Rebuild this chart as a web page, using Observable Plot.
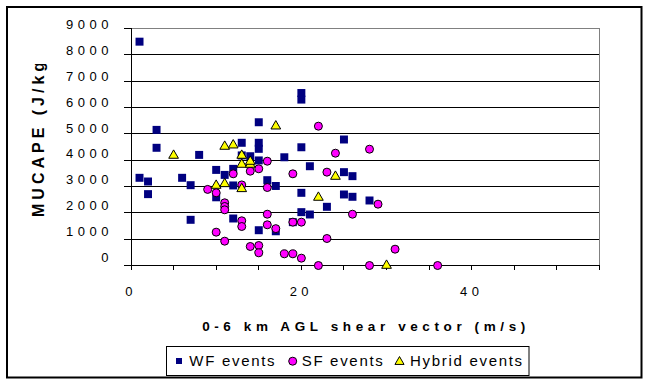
<!DOCTYPE html>
<html><head><meta charset="utf-8">
<script src="https://cdn.jsdelivr.net/npm/d3@7"></script>
<script src="https://cdn.jsdelivr.net/npm/@observablehq/plot@0.6"></script>
<style>
html,body{margin:0;padding:0;background:#fff;}
</style>
</head><body><div id="chart"></div>
<script>
// WF events (squares)
const wfShear = [1,3,3,1,2,2,6,7,7,8,10,10,11,12,12,12,13,13,14,15,15,15,15,15,16,17,17,18,19,20,20,20,20,20,21,21,23,25,25,25,26,26,28];
const wfCape  = [8500,5150,4470,3330,3190,2710,3330,3050,1735,4200,3630,2590,3440,3670,3040,1785,4660,4180,4150,5440,4660,4430,3990,1340,3240,3020,1300,4110,1646,6550,6300,4490,2760,2026,3770,1937,2229,4785,3545,2697,3393,2609,2469];
// SF events (circles)
const sfShear = [9,10,10,11,11,11,11,12,13,13,13,14,14,15,15,15,16,16,16,16,17,18,19,19,19,20,20,22,22,23,23,24,26,28,28,29,31,36];
const sfCape  = [2890,2760,1266,2381,2241,2115,924,3482,3060,1697,1481,3582,722,3672,760,481,3961,2962,1948,1546,1400,443,3482,1646,443,1646,279,5291,0,3545,1025,4265,1948,4417,0,2329,620,0];
// Hybrid events (triangles)
const hyShear = [5,10,11,11,12,13,13,13,14,14,17,22,24,30];
const hyCape  = [4178,3038,4520,3101,4570,4178,3836,2912,3836,3950,5291,2583,3380,0];

const seriesNames = ["WF events", "SF events", "Hybrid events"];
const xTicks = d3.range(0, 56, 5);
const xLabels = [0, 20, 40];
const yTicks = d3.range(0, 9001, 1000);

const FONT = "'Liberation Sans', Arial, sans-serif";
const toRows = (xs, ys, s) => xs.map((x, i) => ({shear: x, cape: ys[i], series: s}));
const wf = toRows(wfShear, wfCape, seriesNames[0]);
const sf = toRows(sfShear, sfCape, seriesNames[1]);
const hy = toRows(hyShear, hyCape, seriesNames[2]);

const plot = Plot.plot({
  width: 649, height: 384,
  marginLeft: 130.5, marginRight: 50, marginTop: 28, marginBottom: 119,
  style: {fontFamily: FONT, fontSize: "13px", color: "#000", background: "#fff", overflow: "visible"},
  x: {domain: [0, 55]},
  y: {domain: [0, 9000]},
  marks: [
    Plot.ruleY(yTicks.filter(d => d > 0 && d < 9000), {stroke: "#000", strokeWidth: 1, shapeRendering: "crispEdges"}),
    Plot.ruleY([9000], {stroke: "#808080", shapeRendering: "crispEdges"}),
    Plot.ruleX([55], {stroke: "#808080", shapeRendering: "crispEdges"}),
    Plot.axisX({ticks: xTicks, tickFormat: d => xLabels.includes(d) ? String(d) : "", tickSize: 5, tickPadding: 16.7, label: null, fontSize: 13, shapeRendering: "crispEdges"}),
    Plot.axisY({ticks: yTicks, tickFormat: d => String(d), tickSize: 7, tickPadding: 11, label: null, fontSize: 13, shapeRendering: "crispEdges"}),
    Plot.ruleX([0], {stroke: "#000", shapeRendering: "crispEdges"}),
    Plot.ruleY([0], {stroke: "#000", shapeRendering: "crispEdges"}),
    Plot.dot(wf, {x: "shear", y: "cape", symbol: "square", r: 4.5, fill: "#000080", stroke: "none"}),
    Plot.dot(sf, {x: "shear", y: "cape", symbol: "circle", r: 4, fill: "#FF00FF", stroke: "#000", strokeWidth: 1}),
    Plot.dot(hy, {x: "shear", y: "cape", symbol: "triangle", r: 3.6, fill: "#FFFF00", stroke: "#000", strokeWidth: 1})
  ]
});

const svg = d3.select(plot);
svg.selectAll('g[aria-label="x-axis tick label"], g[aria-label="y-axis tick label"]').attr("letter-spacing", "4.5");
// the original's value labels sit slightly above their ticks, more so near the bottom
svg.selectAll('g[aria-label="y-axis tick label"] text').each(function() {
  const v = +this.textContent;
  const off = -8 + 4.7 * (v / 9000);
  const t = this.getAttribute("transform") || "";
  this.setAttribute("transform", `${t} translate(0,${off})`);
});

// outer chart border
svg.append("rect").attr("x", 7).attr("y", 7).attr("width", 634.5).attr("height", 370.5)
  .attr("fill", "none").attr("stroke", "#000").attr("stroke-width", 2);

// y-axis title (clipped like the original)
svg.append("defs").append("clipPath").attr("id", "yclip")
  .append("rect").attr("x", 0).attr("y", 64).attr("width", 100).attr("height", 260);
svg.append("g").attr("clip-path", "url(#yclip)")
  .append("text").attr("transform", "translate(44,217) rotate(-90)")
  .attr("text-anchor", "start").attr("font-family", FONT).attr("font-weight", "bold")
  .attr("font-size", 16).attr("letter-spacing", 4).attr("fill", "#000")
  .text("MUCAPE (J/kg)");

// x-axis title
svg.append("text").attr("x", 366).attr("y", 330.7).attr("text-anchor", "middle")
  .attr("font-family", FONT).attr("font-weight", "bold").attr("font-size", 13.5)
  .attr("letter-spacing", 4.6).attr("fill", "#000")
  .text("0-6 km AGL shear vector (m/s)");

// legend
const lg = svg.append("g").attr("font-family", FONT).attr("font-size", 15)
  .attr("letter-spacing", 1.7).attr("text-anchor", "start");
lg.append("rect").attr("x", 166.5).attr("y", 346.5).attr("width", 362.5).attr("height", 29)
  .attr("fill", "#fff").attr("stroke", "#000").attr("stroke-width", 1);
const items = [
  {name: seriesNames[0], sx: 179, sy: 361, tx: 189.3, sym: d3.symbolSquare, size: 36, fill: "#000080", stroke: "none"},
  {name: seriesNames[1], sx: 292.7, sy: 361.2, tx: 301.7, sym: d3.symbolCircle, size: Math.PI * 16, fill: "#FF00FF", stroke: "#000"},
  {name: seriesNames[2], sx: 399.5, sy: 361.8, tx: 410, sym: d3.symbolTriangle, size: 36, fill: "#FFFF00", stroke: "#000"}
];
for (const it of items) {
  lg.append("path").attr("d", d3.symbol(it.sym, it.size)())
    .attr("transform", `translate(${it.sx},${it.sy})`)
    .attr("fill", it.fill).attr("stroke", it.stroke).attr("stroke-width", 1);
  lg.append("text").attr("x", it.tx).attr("y", 365.5).attr("text-anchor", "start")
    .attr("fill", "#000").text(it.name);
}

document.getElementById("chart").appendChild(plot);
</script>
</body></html>
